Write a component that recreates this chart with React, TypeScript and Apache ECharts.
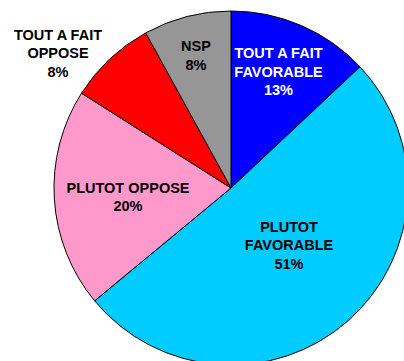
import React, { useEffect, useRef } from "react";
import * as echarts from "echarts";

const categories = [
  "TOUT A FAIT\nFAVORABLE",
  "PLUTOT\nFAVORABLE",
  "PLUTOT OPPOSE",
  "TOUT A FAIT\nOPPOSE",
  "NSP",
];
const values = [13, 51, 20, 8, 8];
const colors = ["#0000FF", "#00CCFF", "#FF99CC", "#FF0000", "#969696"];
const labelColors = ["#FFFFFF", "#000000", "#000000", "#000000", "#000000"];

// label centre positions (layout only)
const labelPos: [number, number][] = [
  [278.5, 71.5],
  [289, 245],
  [128, 197],
  [58, 53],
  [196, 55.5],
];

export default function App() {
  const ref = useRef<HTMLDivElement>(null);
  useEffect(() => {
    if (!ref.current) return;
    const chart = echarts.init(ref.current, undefined, { renderer: "svg" });
    chart.setOption({
      animation: false,
      backgroundColor: "#FFFFFF",
      series: [
        {
          type: "pie",
          center: [231, 188],
          radius: [0, 177],
          startAngle: 90,
          clockwise: true,
          avoidLabelOverlap: false,
          labelLine: { show: false },
          emphasis: { disabled: true },
          itemStyle: { borderColor: "#000000", borderWidth: 1 },
          data: categories.map((name, i) => ({
            name,
            value: values[i],
            itemStyle: { color: colors[i] },
            label: {
              show: true,
              position: "inside",
              formatter: "{b}\n{c}%",
              color: labelColors[i],
              fontFamily: "Liberation Sans, Arial, sans-serif",
              fontWeight: "bold",
              fontSize: 14.5,
              lineHeight: 18.5,
              align: "center",
              verticalAlign: "middle",
            },
          })),
          labelLayout: (params: any) => {
            const p = labelPos[params.dataIndex];
            return { x: p[0], y: p[1], align: "center", verticalAlign: "middle" };
          },
        },
      ],
    });
    return () => chart.dispose();
  }, []);
  return <div ref={ref} style={{ width: 404, height: 361, position: "absolute", left: 0, top: 0 }} />;
}
